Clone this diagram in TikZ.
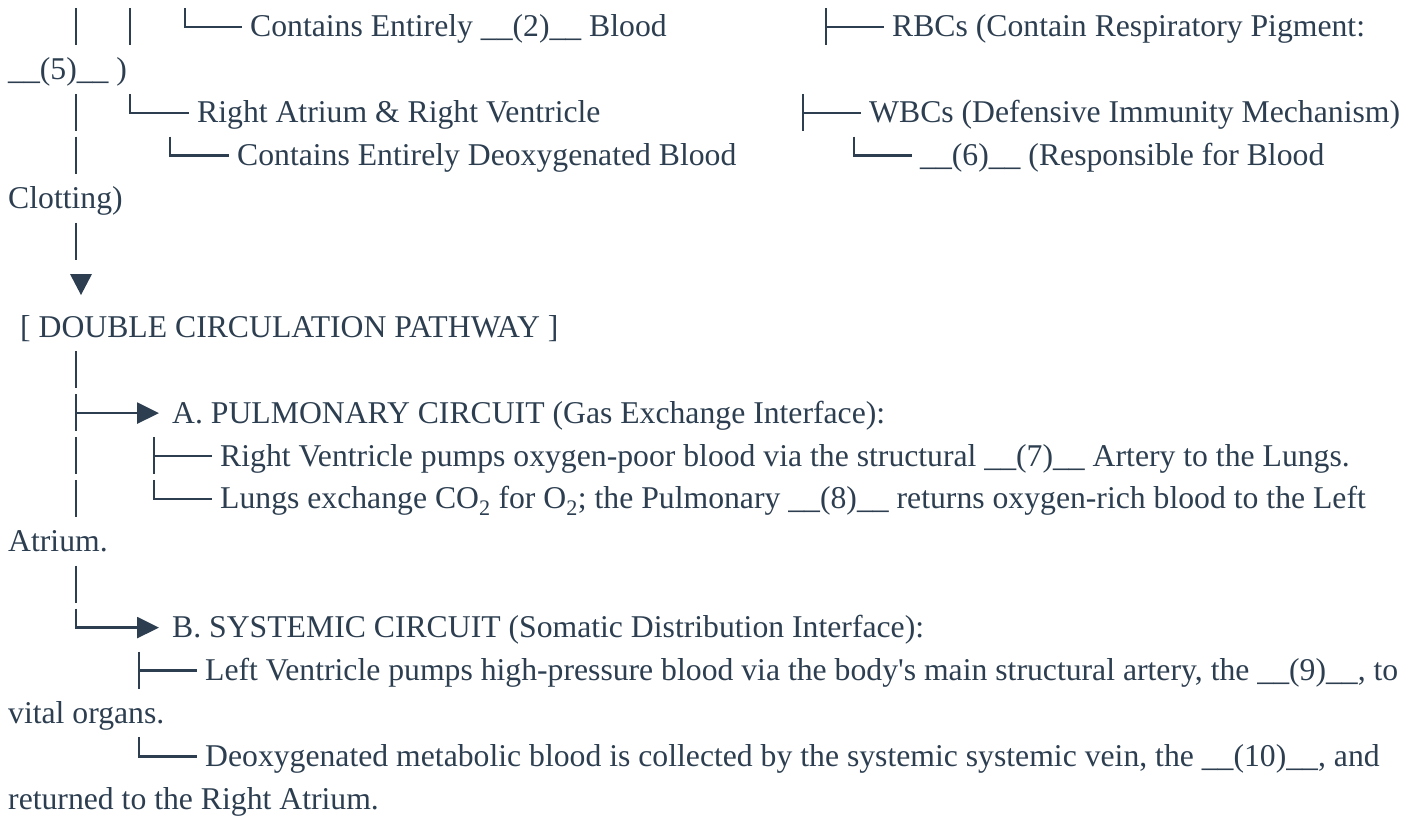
\documentclass[tikz,border=0pt]{standalone}
\usepackage{fontspec}
\setmainfont{Liberation Serif}
\usetikzlibrary{arrows.meta}
\definecolor{ink}{HTML}{2C3E50}
\tikzset{
  txt/.style={anchor=west, inner sep=0pt, text height=20pt, text depth=0pt, text=ink,
    font=\fontsize{31.7}{38}\selectfont},
  bar/.style={draw=ink, line width=2.6pt},
  branch/.style={bar, shorten >=8pt},
  pointer/.style={bar, -{Triangle[length=22pt,width=21pt]}, shorten >=13pt},
}
\begin{document}
\begin{tikzpicture}[x=1pt, y=-1pt]
    \useasboundingbox (0,0) rectangle (1419,816);
    % text rows, 42.9 apart
    \node[txt] (blood2) at (250,27) {Contains Entirely \_\_(2)\_\_ Blood};
    \node[txt] (rbc) at (892,27) {RBCs (Contain Respiratory Pigment:};
    \node[txt] (pig5) at (8,69.9) {\_\_(5)\_\_ )};
    \node[txt] (ratr) at (197,112.8) {Right Atrium \& Right Ventricle};
    \node[txt] (wbc) at (869,112.8) {WBCs (Defensive Immunity Mechanism)};
    \node[txt] (deoxy) at (237,155.7) {Contains Entirely Deoxygenated Blood};
    \node[txt] (plt6) at (920,155.7) {\_\_(6)\_\_ (Responsible for Blood};
    \node[txt] (clot) at (8,198.6) {Clotting)};
    \node[txt] (dcp) at (20,327.3) {[ DOUBLE CIRCULATION PATHWAY ]};
    \node[txt] (pulm) at (172,413.1) {A. PULMONARY CIRCUIT (Gas Exchange Interface):};
    \node[txt] (rvp) at (220,456) {Right Ventricle pumps oxygen-poor blood via the structural \_\_(7)\_\_ Artery to the Lungs.};
    \node[txt] (lung) at (220,498.9) {Lungs exchange CO\textsubscript{2} for O\textsubscript{2}; the Pulmonary \_\_(8)\_\_ returns oxygen-rich blood to the Left};
    \node[txt] (atr) at (8,541.8) {Atrium.};
    \node[txt] (syst) at (172,627.6) {B. SYSTEMIC CIRCUIT (Somatic Distribution Interface):};
    \node[txt] (lvp) at (205,670.5) {Left Ventricle pumps high-pressure blood via the body\textquotesingle s main structural artery, the \_\_(9)\_\_, to};
    \node[txt] (vital) at (8,713.4) {vital organs.};
    \node[txt] (vcav) at (205,756.3) {Deoxygenated metabolic blood is collected by the systemic systemic vein, the \_\_(10)\_\_, and};
    \node[txt] (ret) at (8,799.2) {returned to the Right Atrium.};

    % trunk bars
    \foreach \i in {1,3,4,6,9,11,12,14}
        \draw[bar] (76,{27+42.9*(\i-1)-19}) -- ++(0,37);
    \draw[bar] (130,8) -- ++(0,37);
    \fill[ink] (70,274) -- (92,274) -- (81,295) -- cycle;

    % branches
    \draw[branch] (blood2.west) ++(-65,-19) |- (blood2.west);
    \draw[branch] (rbc.west) ++(-66,-19) -- ++(0,37) ++(0,-18) -- (rbc.west);
    \draw[branch] (ratr.west) ++(-67,-19) |- (ratr.west);
    \draw[branch] (wbc.west) ++(-66,-19) -- ++(0,37) ++(0,-18) -- (wbc.west);
    \draw[branch] (deoxy.west) ++(-67,-19) |- (deoxy.west);
    \draw[branch] (plt6.west) ++(-66,-19) |- (plt6.west);
    \draw[pointer] (pulm.west) ++(-96,-19) -- ++(0,37) ++(0,-18) -- (pulm.west);
    \draw[branch] (rvp.west) ++(-66,-19) -- ++(0,37) ++(0,-18) -- (rvp.west);
    \draw[branch] (lung.west) ++(-66,-19) |- (lung.west);
    \draw[pointer] (syst.west) ++(-96,-19) |- (syst.west);
    \draw[branch] (lvp.west) ++(-66,-19) -- ++(0,37) ++(0,-18) -- (lvp.west);
    \draw[branch] (vcav.west) ++(-66,-19) |- (vcav.west);
\end{tikzpicture}
\end{document}
